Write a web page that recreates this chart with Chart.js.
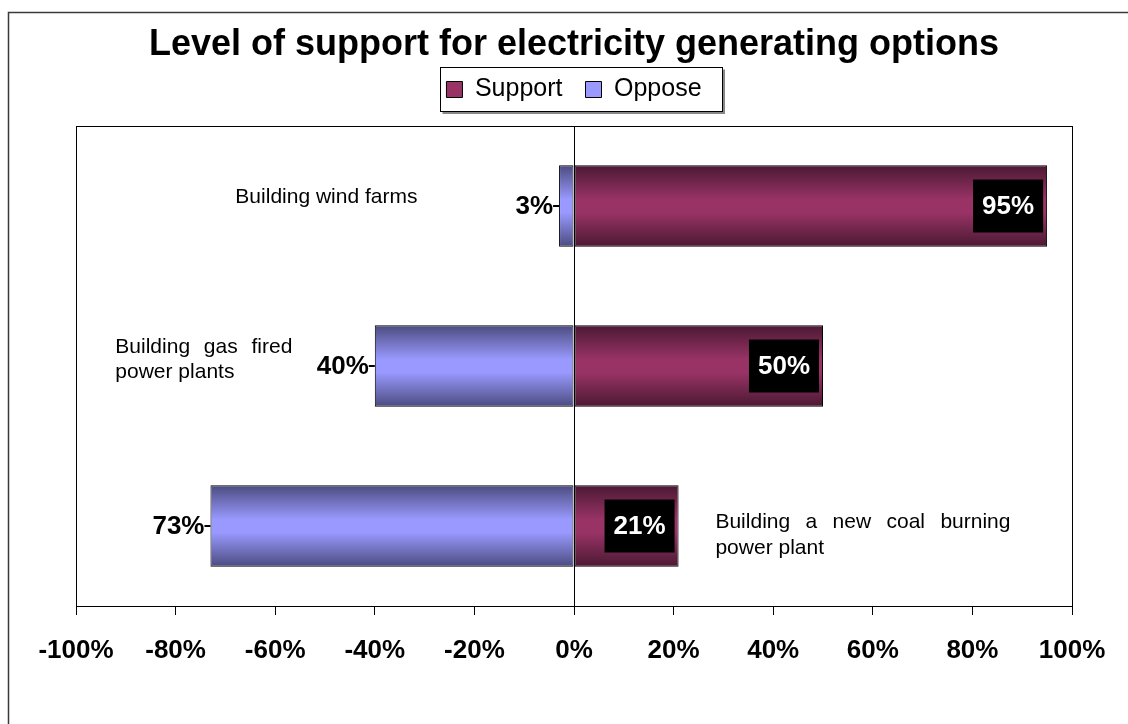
<!DOCTYPE html>
<html>
<head>
<meta charset="utf-8">
<script src="https://cdn.jsdelivr.net/npm/chart.js@4.4.0/dist/chart.umd.min.js"></script>
<style>
  html, body { margin: 0; padding: 0; background: #fff; }
  #wrap { width: 1128px; height: 724px; position: relative; }
</style>
</head>
<body>
<div id="wrap"><canvas id="chart"></canvas></div>
<script>
// data
const categories = [
    ['Building wind farms'],
    ['Building gas fired', 'power plants'],
    ['Building a new coal burning', 'power plant']
];
const seriesNames = ['Support', 'Oppose'];
const supportValues = [95, 50, 21];
const opposeValues = [-3, -40, -73];
const tickMin = -100;
const tickMax = 100;
const tickStep = 20;

const FONT = "'Liberation Sans', Arial, sans-serif";
const BAR_PCT = 0.51;
Chart.defaults.font.family = FONT;
Chart.defaults.color = '#000';

// vertical shading of the bars, like the old 3D excel fill
const shade = (light, dark) => (c) => {
    const chart = c.chart;
    const ys = chart.scales.y;
    if (!ys || c.dataIndex == null) return light;
    const yc = ys.getPixelForValue(c.dataIndex);
    const half = ys.height / categories.length * BAR_PCT / 2;
    if (!isFinite(yc) || !isFinite(half) || half <= 0) return light;
    const g = chart.ctx.createLinearGradient(0, yc - half, 0, yc + half);
    g.addColorStop(0, dark);
    g.addColorStop(0.42, light);
    g.addColorStop(0.58, light);
    g.addColorStop(1, dark);
    return g;
};

const framePlugin = {
    id: 'frame',
    beforeDraw(chart) {
        const ctx = chart.ctx;
        ctx.save();
        ctx.fillStyle = '#fff';
        ctx.fillRect(0, 0, chart.width, chart.height);
        ctx.strokeStyle = '#3a3a3a';
        ctx.lineWidth = 1.5;
        ctx.strokeRect(8.5, 12.5, chart.width + 20, chart.height + 20);
        ctx.restore();
    },
    afterDraw(chart) {
        const ctx = chart.ctx;
        const a = chart.chartArea;
        ctx.save();
        // plot area box
        ctx.strokeStyle = '#000';
        ctx.lineWidth = 1;
        ctx.strokeRect(Math.round(a.left) + 0.5, Math.round(a.top) + 0.5,
            Math.round(a.right - a.left), Math.round(a.bottom - a.top));
        // legend box with shadow
        const hb = chart.legend.legendHitBoxes;
        if (hb && hb.length) {
            const l = Math.round(hb[0].left - 6) + 0.5;
            const last = hb[hb.length - 1];
            const r = Math.round(last.left + last.width + 20) + 0.5;
            const cy = hb[0].top + hb[0].height / 2;
            const t = Math.round(cy - 23) + 0.5;
            const b = Math.round(cy + 21) + 0.5;
            ctx.strokeStyle = '#888';
            ctx.lineWidth = 2;
            ctx.beginPath();
            ctx.moveTo(l + 2, b + 1.5);
            ctx.lineTo(r + 1.5, b + 1.5);
            ctx.lineTo(r + 1.5, t + 2);
            ctx.stroke();
            ctx.strokeStyle = '#000';
            ctx.lineWidth = 1;
            ctx.strokeRect(l, t, r - l, b - t);
        }
        ctx.restore();
    }
};

const labelPlugin = {
    id: 'barLabels',
    afterDatasetsDraw(chart) {
        const ctx = chart.ctx;
        const xs = chart.scales.x;
        const ys = chart.scales.y;
        ctx.save();
        ctx.font = 'bold 26px ' + FONT;
        ctx.textBaseline = 'middle';

        // support: white text in a black box at the bar end
        chart.getDatasetMeta(0).data.forEach((bar, i) => {
            const txt = Math.abs(supportValues[i]) + '%';
            const w = ctx.measureText(txt).width + 18;
            const h = 53;
            const right = bar.x - 4;
            ctx.fillStyle = '#000';
            ctx.fillRect(right - w, bar.y - h / 2, w, h);
            ctx.fillStyle = '#fff';
            ctx.textAlign = 'center';
            ctx.fillText(txt, right - w / 2, bar.y + 1);
        });

        // oppose: black text left of the bar, with a small leader dash
        chart.getDatasetMeta(1).data.forEach((bar, i) => {
            const txt = Math.abs(opposeValues[i]) + '%';
            ctx.strokeStyle = '#000';
            ctx.lineWidth = 2;
            ctx.beginPath();
            ctx.moveTo(bar.x - 6, bar.y);
            ctx.lineTo(bar.x, bar.y);
            ctx.stroke();
            ctx.fillStyle = '#000';
            ctx.textAlign = 'right';
            ctx.fillText(txt, bar.x - 6, bar.y + 1);
        });

        // category names written inside the plot
        const place = [
            { at: -68, dy: [-9], justify: 0 },
            { at: -92.1, dy: [-19, 6], justify: 177 },
            { at: 28.4, dy: [-4, 22], justify: 295 }
        ];
        ctx.font = '21px ' + FONT;
        ctx.fillStyle = '#000';
        ctx.textAlign = 'left';
        categories.forEach((lines, i) => {
            const p = place[i];
            const x0 = xs.getPixelForValue(p.at);
            const yc = ys.getPixelForValue(i);
            lines.forEach((line, j) => {
                const y = yc + p.dy[j];
                const words = line.split(' ');
                if (p.justify && j < lines.length - 1 && words.length > 1) {
                    const sum = words.reduce((s, wd) => s + ctx.measureText(wd).width, 0);
                    const gap = (p.justify - sum) / (words.length - 1);
                    let x = x0;
                    words.forEach(wd => {
                        ctx.fillText(wd, x, y);
                        x += ctx.measureText(wd).width + gap;
                    });
                } else {
                    ctx.fillText(line, x0, y);
                }
            });
        });
        ctx.restore();
    }
};

const ctx = document.getElementById('chart').getContext('2d');
new Chart(ctx, {
    type: 'bar',
    data: {
        labels: categories,
        datasets: [
            {
                label: seriesNames[0],
                data: supportValues,
                backgroundColor: shade('#993366', '#4a1932'),
                borderColor: '#000',
                borderWidth: 1,
                borderSkipped: false,
                categoryPercentage: 1,
                barPercentage: BAR_PCT
            },
            {
                label: seriesNames[1],
                data: opposeValues,
                backgroundColor: shade('#9999ff', '#4b4b7e'),
                borderColor: '#000',
                borderWidth: 1,
                borderSkipped: false,
                categoryPercentage: 1,
                barPercentage: BAR_PCT
            }
        ]
    },
    options: {
        indexAxis: 'y',
        responsive: true,
        maintainAspectRatio: false,
        animation: false,
        layout: { padding: { left: 76, right: 56, top: 0, bottom: 0 } },
        scales: {
            x: {
                stacked: true,
                min: tickMin,
                max: tickMax,
                ticks: {
                    stepSize: tickStep,
                    padding: 20,
                    color: '#000',
                    font: { size: 26, weight: 'bold' },
                    callback: v => v + '%'
                },
                grid: {
                    color: c => (c.tick && c.tick.value === 0) ? '#000' : 'rgba(0,0,0,0)',
                    tickColor: '#000',
                    tickLength: 9,
                    lineWidth: 1
                },
                border: { display: true, color: '#000', width: 1 },
                afterFit(scale) { scale.height = 118; }
            },
            // empty strip that keeps a gap between legend and plot
            gap: {
                type: 'linear',
                axis: 'x',
                position: 'top',
                display: true,
                ticks: { display: false },
                grid: { display: false, drawTicks: false },
                border: { display: false },
                afterFit(scale) { scale.height = 14; }
            },
            y: {
                stacked: true,
                display: false
            }
        },
        plugins: {
            title: {
                display: true,
                text: 'Level of support for electricity generating options',
                color: '#000',
                font: { size: 36, weight: 'bold', lineHeight: 0.5 },
                padding: { top: 36, bottom: 0 }
            },
            legend: {
                display: true,
                position: 'top',
                labels: {
                    boxWidth: 16,
                    boxHeight: 16,
                    padding: 23,
                    color: '#000',
                    font: { size: 25 },
                    generateLabels: () => [
                        { text: seriesNames[0], fillStyle: '#993366', strokeStyle: '#000', lineWidth: 1, datasetIndex: 0, hidden: false },
                        { text: seriesNames[1], fillStyle: '#9999ff', strokeStyle: '#000', lineWidth: 1, datasetIndex: 1, hidden: false }
                    ]
                }
            },
            tooltip: { enabled: false }
        }
    },
    plugins: [framePlugin, labelPlugin]
});
</script>
</body>
</html>
